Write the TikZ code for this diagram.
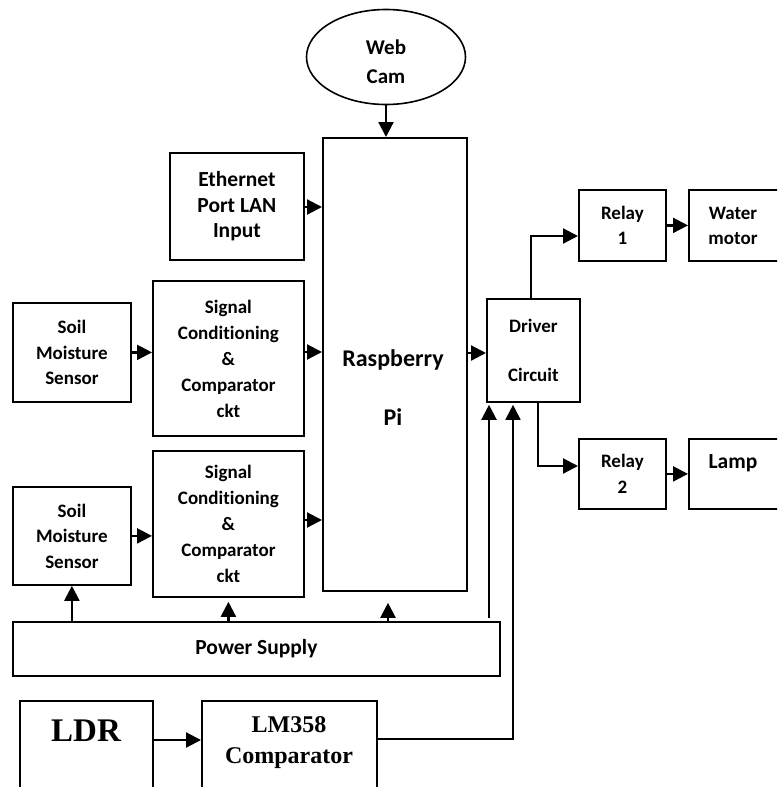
\documentclass[tikz,border=0pt]{standalone}
\usepackage{fontspec}
\setmainfont{Carlito}[Ligatures=NoCommon]
\newfontfamily\tnr{Liberation Serif}
\usetikzlibrary{arrows.meta,shapes.geometric}
\begin{document}
\begin{tikzpicture}[x=1pt,y=-1pt,
  box/.style={draw, line width=1.8pt, inner sep=0pt, anchor=north west},
  txt/.style={font=\fontsize{19}{25.5}\selectfont\bfseries, align=center, inner sep=0pt},
  big/.style={font=\fontsize{21.5}{25.5}\selectfont\bfseries},
  arr/.style={line width=2.2pt, -{Triangle[length=15pt,width=15pt]}},
  ln/.style={line width=2pt}]
\useasboundingbox (0,0) rectangle (777,787);
\clip (0,0) rectangle (777,787);
% webcam
\node[draw, ellipse, line width=1.6pt, minimum width=159, minimum height=95] (cam) at (386,57) {};
\node[txt, font=\fontsize{21}{29}\selectfont\bfseries] (camt) at (386,62) {Web\\Cam};
% boxes
\node[box, minimum width=134, minimum height=107, txt, big] (eth) at (169,152) {Ethernet\\Port LAN\\Input};
\node[box, minimum width=144, minimum height=453] (rpi) at (322,137) {};
\node[txt, font=\fontsize{24}{59}\selectfont\bfseries] (rpit) at (393,388) {Raspberry\\Pi};
\node[box, minimum width=118, minimum height=99, txt] (soil1) at (12,302) {Soil\\Moisture\\Sensor};
\node[box, minimum width=151, minimum height=155, txt, font=\fontsize{19}{26}\selectfont\bfseries] (sig1) at (152,280) {Signal\\Conditioning\\\&\\Comparator\\ckt};
\node[box, minimum width=151, minimum height=146, txt, font=\fontsize{19}{26}\selectfont\bfseries] (sig2) at (152,450) {Signal\\Conditioning\\\&\\Comparator\\ckt};
\node[box, minimum width=118, minimum height=98, txt] (soil2) at (12,486) {Soil\\Moisture\\Sensor};
\node[box, minimum width=487, minimum height=54, txt, big] (ps) at (12,621) {Power Supply};
\node[box, minimum width=93, minimum height=103, txt] (drv) at (486,298) {Driver\\[23.5pt]Circuit};
\node[box, minimum width=87, minimum height=71, txt] (rl1) at (578,189) {Relay\\1};
\node[box, minimum width=110, minimum height=71] (wm) at (688,189) {};
\node[txt] (wmt) at (733,226) {Water\\motor};
\node[box, minimum width=87, minimum height=70, txt] (rl2) at (578,438) {Relay\\2};
\node[box, minimum width=110, minimum height=70] (lamp) at (688,438) {};
\node[txt, big] (lampt) at (733,463) {Lamp};
\node[box, minimum width=133, minimum height=110] (ldr) at (19,700) {};
\node[inner sep=0pt, font=\fontsize{33}{36}\tnr\bfseries] (ldrt) at (86,731) {LDR};
\node[box, minimum width=175, minimum height=110] (lm) at (201,700) {};
\node[inner sep=0pt, align=center, font=\fontsize{24}{31}\tnr\bfseries] (lmt) at (289,743) {LM358\\Comparator};
% arrows
\draw[arr] (cam.south) -- (cam.south |- rpi.north);
\draw[arr] (eth.east |- 0,207) -- (rpi.west |- 0,207);
\draw[arr] (soil1.east) -- (soil1.east -| sig1.west);
\draw[arr] (sig1.east |- 0,352) -- (rpi.west |- 0,352);
\draw[arr] (soil2.east) -- (soil2.east -| sig2.west);
\draw[arr] (sig2.east |- 0,520) -- (rpi.west |- 0,520);
\draw[arr] (rpi.east |- 0,353) -- (drv.west |- 0,353);
\draw[arr] (drv.north -| 531,0) |- (rl1.west |- 0,236);
\draw[arr] (rl1.east) -- (wm.west);
\draw[arr] (drv.south -| 538,0) |- (rl2.west |- 0,466);
\draw[arr] (rl2.east) -- (lamp.west);
\draw[arr] (soil2.south |- ps.north) -- (soil2.south);
\draw[arr, shorten >=4pt] (sig2.south |- ps.north) -- (sig2.south);
\draw[arr, shorten >=11pt] (ps.north -| 388,0) -- (rpi.south -| 388,0);
\draw[arr, shorten >=2pt] ([yshift=3pt]ps.north -| 489,0) -- (drv.south -| 489,0);
\draw[arr, shorten >=2pt, line width=1.8pt] (lm.east |- 0,739) -| (drv.south -| 513,0);
\draw[arr] (ldr.east |- 0,740) -- (lm.west |- 0,740);
\end{tikzpicture}
\end{document}
